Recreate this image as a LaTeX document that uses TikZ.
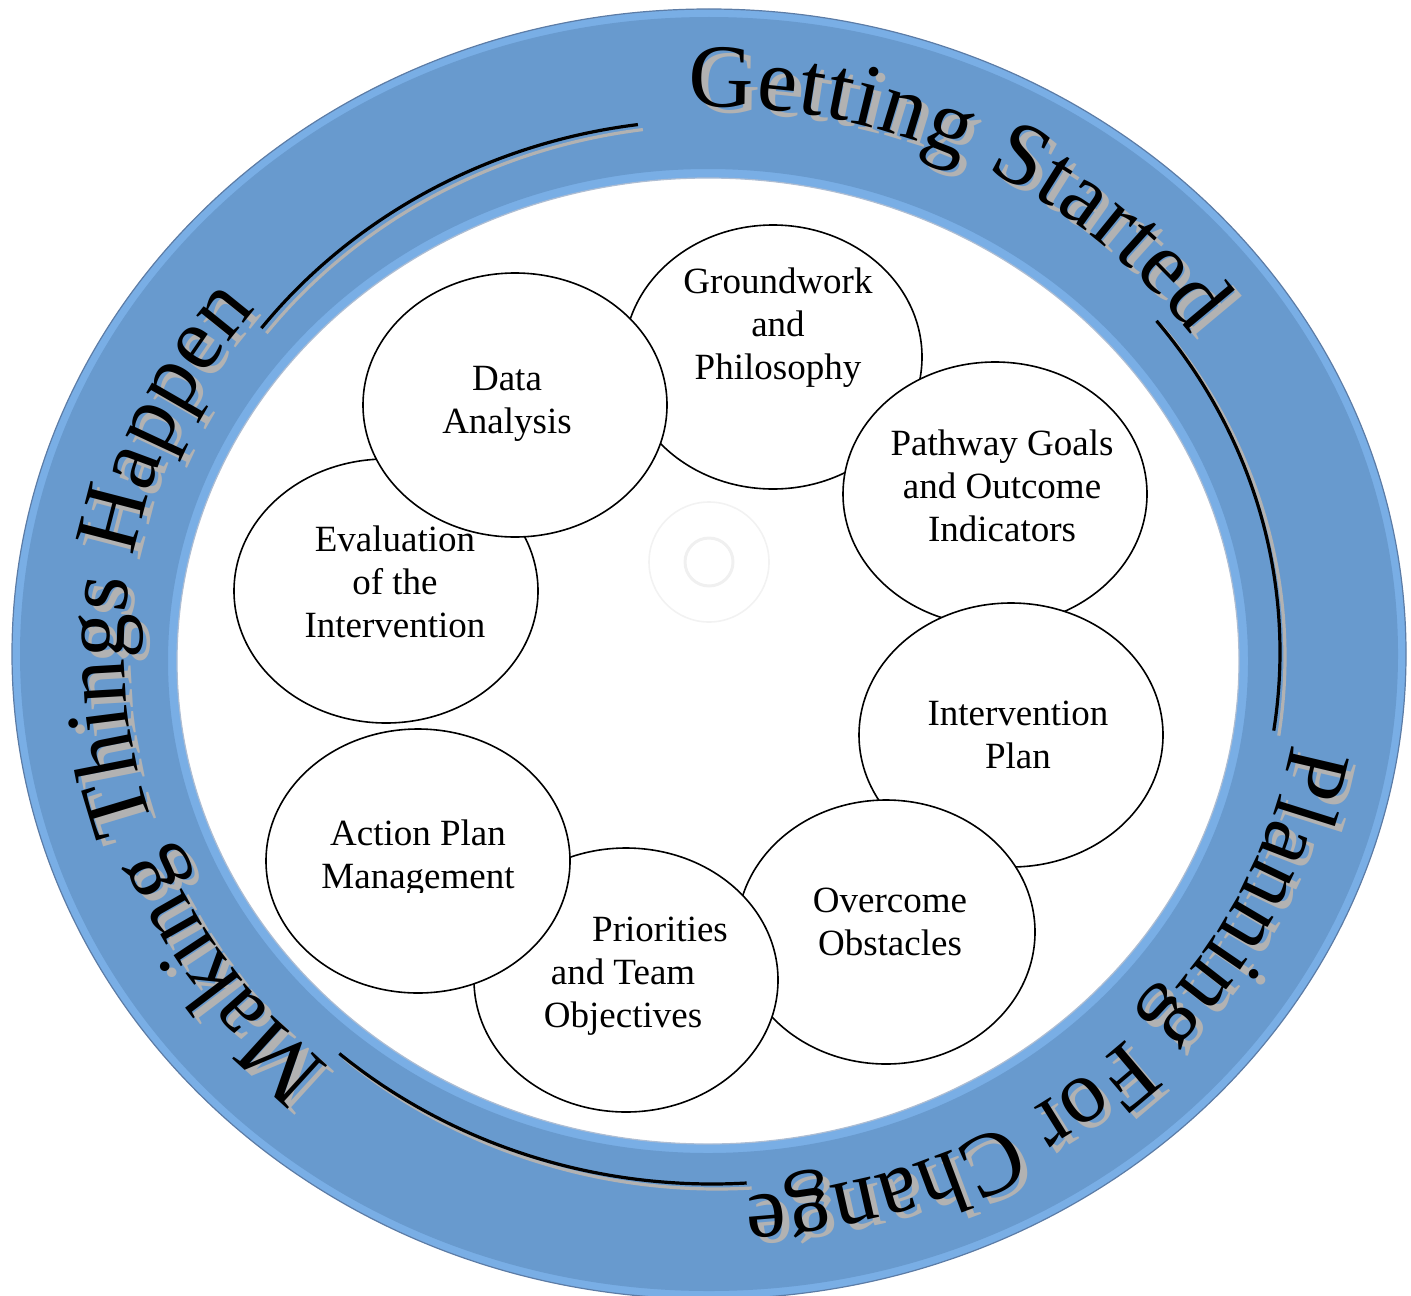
\documentclass[tikz,border=0pt]{standalone}
\usepackage{fontspec}
\setmainfont{Liberation Serif}
\usetikzlibrary{shapes.geometric,decorations.text}

\definecolor{ringblue}{RGB}{104,154,206}
\definecolor{ringlight}{RGB}{121,174,229}
\definecolor{ringedge}{RGB}{92,124,166}
\definecolor{shadowgray}{RGB}{178,178,178}

\newcommand{\bubfont}{\fontsize{18.5pt}{21.5pt}\selectfont}
\newcommand{\ringfont}{\fontsize{45pt}{45pt}\selectfont}

\begin{document}
\begin{tikzpicture}[x=0.5pt,y=0.5pt,
  bubble/.style={ellipse, draw, fill=white, line width=0.8pt, minimum width=152pt, minimum height=132pt, inner sep=0pt},
  bubtext/.style={align=center, inner sep=0pt, font=\bubfont},
  ringline/.style={line width=1.6pt},
  ringshade/.style={shadowgray, line width=1.6pt}]
\useasboundingbox (0,0) rectangle (1411,-1295);
\clip (0,0) rectangle (1411,-1295);

\coordinate (ringout) at (709,-654);
\coordinate (ringin) at (708,-661);
\coordinate (linec) at (712,-652);
\coordinate (lineshad) at (717,-657);
\coordinate (textc) at (712,-652);
\coordinate (textshad) at (719,-658);
\coordinate (target) at (709,-562);

%Shape: Ring
\fill[ringlight, even odd rule] (ringout) ellipse [x radius=697, y radius=645] (ringin) ellipse [x radius=531, y radius=483];
\fill[ringblue, even odd rule] (ringout) ellipse [x radius=689, y radius=637] (ringin) ellipse [x radius=540, y radius=492];
\draw[ringedge, line width=0.6pt] (ringout) ellipse [x radius=697, y radius=645];
\draw[ringedge!50, line width=0.6pt] (ringin) ellipse [x radius=531, y radius=483];

%Shape: Circle (faint mark in the middle)
\draw[black!5, line width=0.8pt] (target) circle [radius=60];
\draw[black!6, line width=1.5pt] (target) circle [radius=24];

%Curve Lines (shadow first)
\draw[ringshade] ([shift={(142.5:568 and 532)}]lineshad) arc [start angle=142.5, end angle=97.5, x radius=568, y radius=532];
\draw[ringshade] ([shift={(38.5:568 and 532)}]lineshad) arc [start angle=38.5, end angle=-8.5, x radius=568, y radius=532];
\draw[ringshade] ([shift={(-86.5:568 and 532)}]lineshad) arc [start angle=-86.5, end angle=-131, x radius=568, y radius=532];
\draw[ringline] ([shift={(142.5:568 and 532)}]linec) arc [start angle=142.5, end angle=97.5, x radius=568, y radius=532];
\draw[ringline] ([shift={(38.5:568 and 532)}]linec) arc [start angle=38.5, end angle=-8.5, x radius=568, y radius=532];
\draw[ringline] ([shift={(-86.5:568 and 532)}]linec) arc [start angle=-86.5, end angle=-131, x radius=568, y radius=532];

%Text along the ring (shadow first)
\path[decorate, decoration={text along path, text align=fit to path, text color=shadowgray, text={|\ringfont|Getting Started}}] ([shift={(92.3:588 and 545)}]textshad) arc [start angle=92.3, end angle=35.5, x radius=588, y radius=545];
\path[decorate, decoration={text along path, text align=fit to path, text color=shadowgray, text={|\ringfont|Planning For Change}}] ([shift={(-9.7:588 and 545)}]textshad) arc [start angle=-9.7, end angle=-85.8, x radius=588, y radius=545];
\path[decorate, decoration={text along path, text align=fit to path, text color=shadowgray, text={|\ringfont|Making Things Happen}}] ([shift={(229.5:588 and 545)}]textshad) arc [start angle=229.5, end angle=142.5, x radius=588, y radius=545];
\path[decorate, decoration={text along path, text align=fit to path, text={|\ringfont|Getting Started}}] ([shift={(92.3:588 and 545)}]textc) arc [start angle=92.3, end angle=35.5, x radius=588, y radius=545];
\path[decorate, decoration={text along path, text align=fit to path, text={|\ringfont|Planning For Change}}] ([shift={(-9.7:588 and 545)}]textc) arc [start angle=-9.7, end angle=-85.8, x radius=588, y radius=545];
\path[decorate, decoration={text along path, text align=fit to path, text={|\ringfont|Making Things Happen}}] ([shift={(229.5:588 and 545)}]textc) arc [start angle=229.5, end angle=142.5, x radius=588, y radius=545];

%Shape: Ellipse
\node[bubble, minimum width=149pt] (gw) at (773,-357) {};
\node[bubble] (pw) at (995,-494) {};
\node[bubble] (ip) at (1011,-735) {};
\node[bubble, minimum width=149pt] (oo) at (886,-932) {};
\node[bubble] (pt) at (626,-980) {};
\node[bubble] (ap) at (418,-861) {};
\node[bubble] (ev) at (386,-591) {};
\node[bubble] (da) at (515,-405) {};

% Text Node
\node[bubtext] (gwt) at (778,-328) {Groundwork\\and\\Philosophy};
% Text Node
\node[bubtext] (pwt) at (1002,-486) {Pathway Goals\\and Outcome\\Indicators};
% Text Node
\node[bubtext] (ipt) at (1018,-735) {Intervention\\Plan};
% Text Node
\node[bubtext] (oot) at (890,-922) {Overcome\\Obstacles};
% Text Node
\node[bubtext] (ptt) at (623,-976) {\hspace*{2em}Priorities\\and Team\\Objectives};
% Text Node
\begin{scope}
\clip (250,-700) rectangle (600,-892);
\node[bubtext] (apt) at (418,-858) {Action Plan\\Management};
\end{scope}
% Text Node
\node[bubtext] (evt) at (395,-582) {Evaluation\\of the\\Intervention};
% Text Node
\node[bubtext] (dat) at (507,-404) {Data\\Analysis};

\end{tikzpicture}
\end{document}
